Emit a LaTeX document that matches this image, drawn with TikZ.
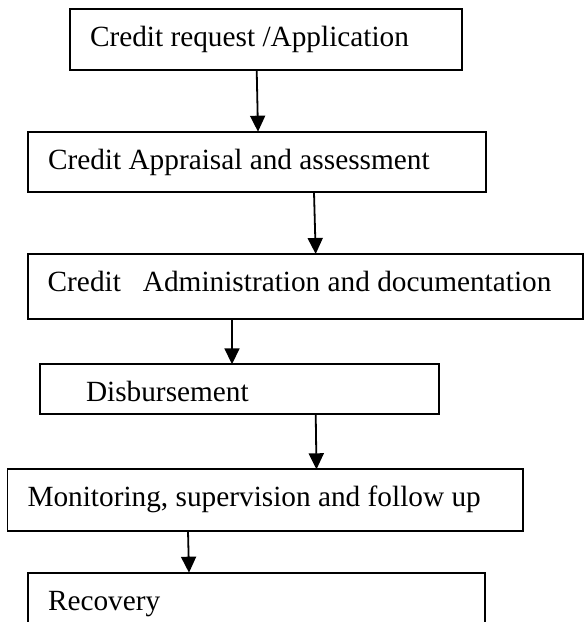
\documentclass[tikz,border=0pt]{standalone}
\usepackage{fontspec}
\setmainfont{Liberation Serif}
\usetikzlibrary{arrows.meta}
\newcommand{\boxtext}[2]{\makebox[#1][l]{#2}}
\begin{document}
\begin{tikzpicture}[x=1pt,y=1pt,
  box/.style={draw, line width=1.8pt, rectangle, anchor=north west, outer sep=0pt,
    inner ysep=0pt, inner xsep=20pt,
    font=\fontsize{29.3}{35}\selectfont, text height=37.5pt},
  arr/.style={line width=1.8pt, -{Triangle[width=15pt,length=16pt]}}]
\useasboundingbox (0,0) rectangle (586,622);
\clip (0,0) rectangle (586,622);
\node[box, text depth=23.9pt, text height=37pt] (b1) at (70,612.7) {\boxtext{352pt}{Credit request /Application}};
\node[box, text depth=23.1pt] (b2) at (28,490.3) {\boxtext{418pt}{Credit Appraisal and assessment}};
\node[box, text depth=27.8pt] (b3) at (27.7,368) {\boxtext{515.6pt}{Credit\ \ \ Administration and documentation}};
\node[box, text depth=11.9pt] (b4) at (40,257.7) {\boxtext{359pt}{\hspace*{26pt}Disbursement}};
\node[box, text depth=24.2pt] (b5) at (7.5,152.7) {\boxtext{475.5pt}{Monitoring, supervision and follow up}};
\node[box, text depth=60pt] (b6) at (28,49.3) {\boxtext{417pt}{Recovery}};
\draw[arr] ([xshift=186.7pt]b1.south west) -- ([xshift=230pt]b2.north west);
\draw[arr] ([xshift=286pt]b2.south west) -- ([xshift=288pt]b3.north west);
\draw[arr] ([xshift=204.3pt]b3.south west) -- ([xshift=192pt]b4.north west);
\draw[arr] ([xshift=275.7pt]b4.south west) -- ([xshift=309pt]b5.north west);
\draw[arr] ([xshift=180.5pt]b5.south west) -- ([xshift=161pt]b6.north west);
\end{tikzpicture}
\end{document}
